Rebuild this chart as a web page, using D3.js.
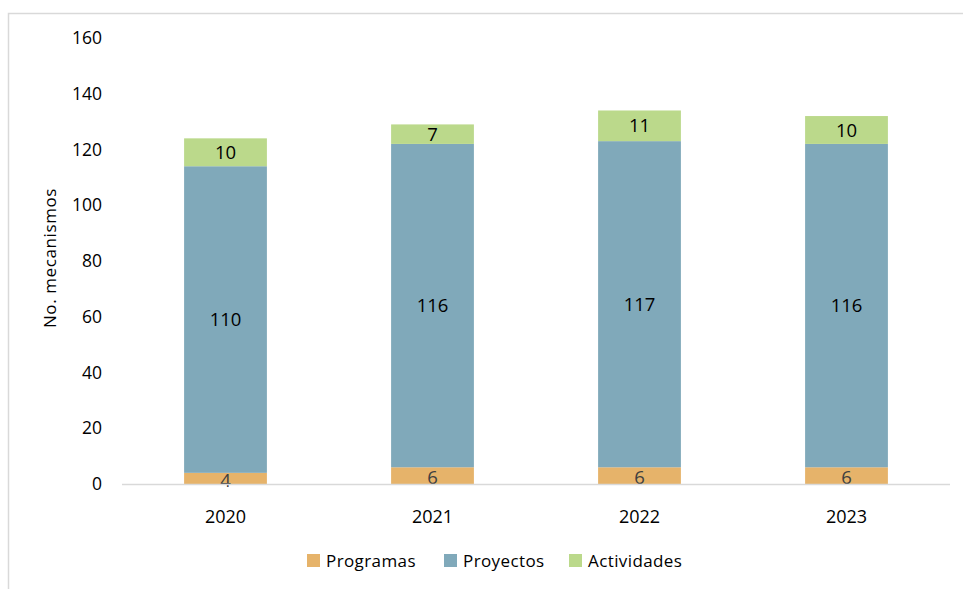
<!DOCTYPE html>
<html>
<head>
<meta charset="utf-8">
<script src="https://cdn.jsdelivr.net/npm/d3@7"></script>
<style>
  body { margin: 0; background: #fff; }
  svg { display: block; font-family: "Open Sans", "Noto Sans", sans-serif; }
</style>
</head>
<body>
<svg width="963" height="589"></svg>
<script>
// chart data
const years = ['2020', '2021', '2022', '2023'];
const seriesNames = ['Programas', 'Proyectos', 'Actividades'];
const programas = [4, 6, 6, 6];
const proyectos = [110, 116, 117, 116];
const actividades = [10, 7, 11, 10];
const yTicks = [0, 20, 40, 60, 80, 100, 120, 140, 160];
const colors = ['#E6B36A', '#80A9BA', '#BBD98B'];

const svg = d3.select('svg');

// chart frame
svg.append('rect')
    .attr('x', 8.5).attr('y', 13.5)
    .attr('width', 970).attr('height', 600)
    .attr('fill', 'none')
    .attr('stroke', '#d9d9d9')
    .attr('stroke-width', 1.5);

const x = d3.scaleBand()
    .domain(years)
    .range([122, 950])
    .paddingInner(0.6)
    .paddingOuter(0.3);

const y = d3.scaleLinear()
    .domain([0, 160])
    .range([484, 38]);

// stack the three series
const rows = years.map((yr, i) => ({
    year: yr,
    Programas: programas[i],
    Proyectos: proyectos[i],
    Actividades: actividades[i]
}));
const stacked = d3.stack().keys(seriesNames)(rows);

// y axis labels (no line)
const yAxis = svg.append('g')
    .attr('transform', 'translate(102,0)')
    .call(d3.axisLeft(y).tickValues(yTicks).tickSize(0).tickPadding(0));
yAxis.select('.domain').remove();
yAxis.selectAll('text')
    .attr('font-size', 17.5)
    .attr('font-family', '"Open Sans", sans-serif')
    .attr('fill', '#000');

svg.append('text')
    .attr('transform', 'translate(56,' + (y(80) - 3) + ') rotate(-90)')
    .attr('text-anchor', 'middle')
    .attr('font-size', 17)
    .attr('letter-spacing', 0.6)
    .attr('fill', '#000')
    .text('No. mecanismos');

// bars
const layers = svg.append('g').selectAll('g')
    .data(stacked)
    .join('g')
    .attr('fill', (d, i) => colors[i]);

layers.selectAll('rect')
    .data(d => d)
    .join('rect')
    .attr('x', d => x(d.data.year))
    .attr('y', d => y(d[1]))
    .attr('width', x.bandwidth())
    .attr('height', d => y(d[0]) - y(d[1]));

// x axis line
svg.append('line')
    .attr('x1', 122).attr('x2', 950)
    .attr('y1', y(0) + 0.5).attr('y2', y(0) + 0.5)
    .attr('stroke', '#d9d9d9')
    .attr('stroke-width', 1.5);

const xAxis = svg.append('g')
    .attr('transform', 'translate(0,' + y(0) + ')')
    .call(d3.axisBottom(x).tickSize(0).tickPadding(26));
xAxis.select('.domain').remove();
xAxis.selectAll('text')
    .attr('font-size', 18)
    .attr('font-family', '"Open Sans", sans-serif')
    .attr('fill', '#000');

// value labels
layers.each(function(layer, li) {
    d3.select(this).selectAll('text')
        .data(layer)
        .join('text')
        .attr('x', d => x(d.data.year) + x.bandwidth() / 2)
        .attr('y', d => (y(d[0]) + y(d[1])) / 2 + (li === 0 ? 2 : 0))
        .attr('dy', '0.36em')
        .attr('text-anchor', 'middle')
        .attr('font-size', 18.5)
        .attr('fill', li === 0 ? '#404040' : '#000')
        .text(d => d[1] - d[0]);
});

// legend
const legendX = [307, 444, 569];
const legend = svg.append('g').selectAll('g')
    .data(seriesNames)
    .join('g')
    .attr('transform', (d, i) => 'translate(' + legendX[i] + ',554)');
legend.append('rect')
    .attr('width', 13).attr('height', 13)
    .attr('fill', (d, i) => colors[i]);
legend.append('text')
    .attr('x', 19).attr('y', 7)
    .attr('dy', '0.36em')
    .attr('font-size', 17)
    .attr('letter-spacing', 0.4)
    .attr('fill', '#000')
    .text(d => d);
</script>
</body>
</html>
